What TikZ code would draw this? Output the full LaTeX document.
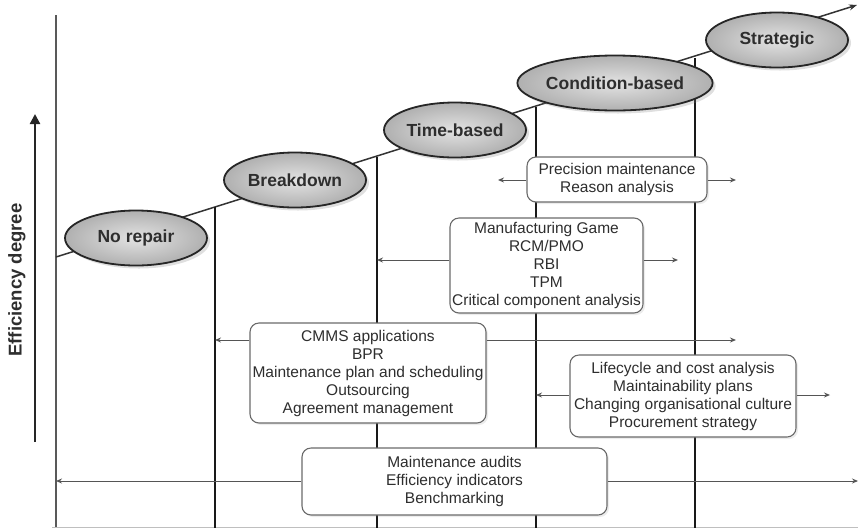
\documentclass[tikz,border=0pt]{standalone}
\usepackage{fontspec}
\setmainfont{Liberation Sans}
\usetikzlibrary{arrows.meta,shadows,shapes.geometric}
\definecolor{txt}{HTML}{2E2E2E}
\definecolor{boxline}{HTML}{6A6A6A}
\definecolor{arrline}{HTML}{555555}
\tikzset{
  stage/.style={ellipse, draw=black!85, line width=1.8pt, inner sep=0pt,
    minimum width=142pt, minimum height=55pt,
    inner color=gray!22, outer color=gray!62,
    drop shadow={opacity=0.25, shadow xshift=3pt, shadow yshift=-3pt},
    font=\fontsize{17.5}{19}\selectfont\bfseries, text=txt},
  toolbox/.style={rectangle, rounded corners=9pt, draw=boxline, line width=1.1pt,
    fill=white, inner sep=0pt, align=center, text=txt,
    drop shadow={opacity=0.15, shadow xshift=2pt, shadow yshift=-2pt},
    font=\fontsize{15.5}{18}\selectfont},
  flow/.style={draw=arrline, line width=1pt, -{Stealth[length=6pt,width=5pt]}},
  divider/.style={draw=black!90, line width=2pt},
}
\begin{document}
\begin{tikzpicture}[x=1pt,y=-1pt]
\useasboundingbox (0,0) rectangle (858,528);
% axes
\coordinate (axtop) at (56,15);
\coordinate (axbot) at (56,528);
\draw[gray!70!black, line width=1.2pt] (axtop) -- (axbot);
\coordinate (xl) at (52,527);
\coordinate (xr) at (858,527);
\draw[gray!50, line width=1pt] (xl) -- (xr);
% efficiency arrow and label
\coordinate (ea0) at (35,442);
\coordinate (ea1) at (35,114);
\draw[black!85, line width=2.2pt, -{Triangle[length=10pt,width=10pt]}] (ea0) -- (ea1);
\node[rotate=90, font=\fontsize{18.5}{20}\selectfont\bfseries, text=txt] (eff) at (17,280) {Efficiency degree};
% diagonal progression line
\coordinate (d0) at (56,257);
\coordinate (d1) at (857,5);
\draw[black!80, line width=1.5pt, -{Stealth[length=8pt,width=6pt]}] (d0) -- (d1);
% dividers
\coordinate (v1t) at (215,207); \coordinate (v1b) at (215,528);
\coordinate (v2t) at (377,157); \coordinate (v2b) at (377,528);
\coordinate (v3t) at (536,107); \coordinate (v3b) at (536,528);
\coordinate (v4t) at (695,58);  \coordinate (v4b) at (695,528);
\draw[divider] (v1t) -- (v1b);
\draw[divider] (v2t) -- (v2b);
\draw[divider] (v3t) -- (v3b);
\draw[divider] (v4t) -- (v4b);
% arrow end points
\coordinate (a1l) at (498,180); \coordinate (a1r) at (736,180);
\coordinate (a2l) at (377,260); \coordinate (a2r) at (678,260);
\coordinate (a3l) at (215,340); \coordinate (a3r) at (736,340);
\coordinate (a4l) at (536,395); \coordinate (a4r) at (830,395);
\coordinate (a5l) at (56,481);  \coordinate (a5r) at (858,481);
% boxes
\node[toolbox, minimum width=180pt, minimum height=45pt] (b1) at (617,179.5)
  {Precision maintenance\\Reason analysis};
\node[toolbox, minimum width=193pt, minimum height=95pt] (b2) at (546.5,265.5)
  {Manufacturing Game\\RCM/PMO\\RBI\\TPM\\Critical component analysis};
\node[toolbox, minimum width=236pt, minimum height=100pt] (b3) at (368,373)
  {CMMS applications\\BPR\\Maintenance plan and scheduling\\Outsourcing\\Agreement management};
\node[toolbox, minimum width=226pt, minimum height=82pt] (b4) at (683,396)
  {Lifecycle and cost analysis\\Maintainability plans\\Changing organisational culture\\Procurement strategy};
\node[toolbox, minimum width=305pt, minimum height=67pt] (b5) at (454.5,481.5)
  {Maintenance audits\\Efficiency indicators\\Benchmarking};
% flows
\draw[flow] (b1.west |- a1l) -- (a1l);
\draw[flow] (b1.east |- a1r) -- (a1r);
\draw[flow] (b2.west |- a2l) -- (a2l);
\draw[flow] (b2.east |- a2r) -- (a2r);
\draw[flow] (b3.west |- a3l) -- (a3l);
\draw[flow] (b3.east |- a3r) -- (a3r);
\draw[flow] (b4.west |- a4l) -- (a4l);
\draw[flow] (b4.east |- a4r) -- (a4r);
\draw[flow] (b5.west |- a5l) -- (a5l);
\draw[flow] (b5.east |- a5r) -- (a5r);
% stages
\node[stage] (s1) at (136,238) {No repair};
\node[stage] (s2) at (295,180) {Breakdown};
\node[stage] (s3) at (455,130) {Time-based};
\node[stage] (s4) at (615,83) {Condition-based};
\node[stage] (s5) at (777,40) {Strategic};
\end{tikzpicture}
\end{document}
